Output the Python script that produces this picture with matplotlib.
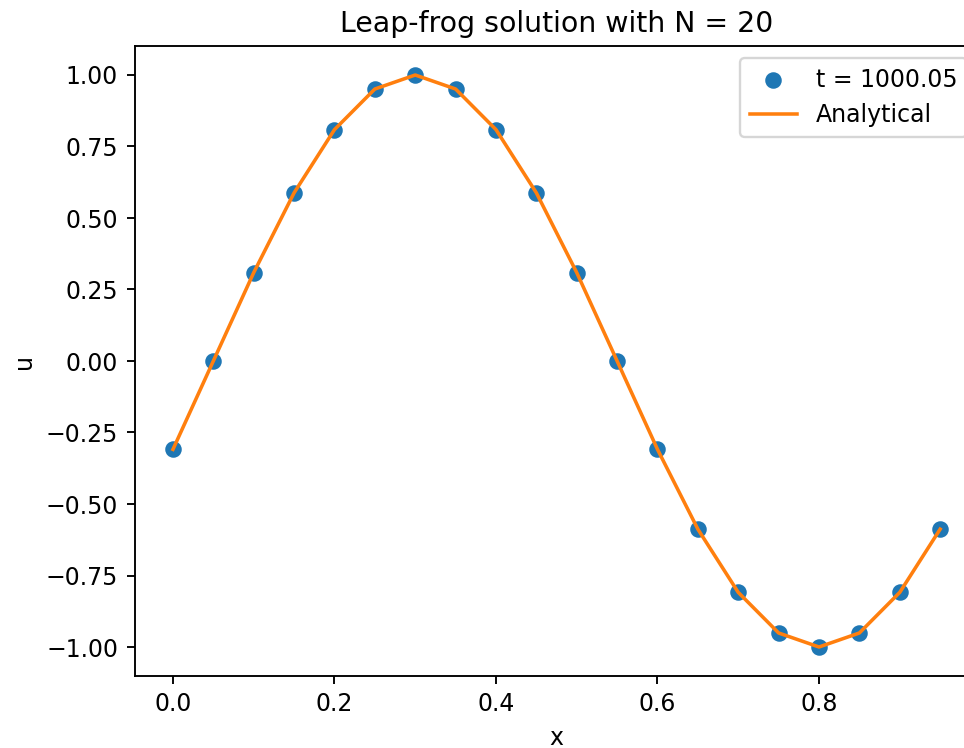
import numpy as np
import matplotlib.pyplot as plt

x = [0.0, 0.05, 0.1, 0.15, 0.2, 0.25, 0.3, 0.35, 0.4, 0.45,
     0.5, 0.55, 0.6, 0.65, 0.7, 0.75, 0.8, 0.85, 0.9, 0.95]
u_num = [-0.309, 0.0, 0.309, 0.588, 0.809, 0.951, 1.0, 0.951, 0.809, 0.588,
         0.309, 0.0, -0.309, -0.588, -0.809, -0.951, -1.0, -0.951, -0.809, -0.588]
u_exact = [-0.309, 0.0, 0.309, 0.588, 0.809, 0.951, 1.0, 0.951, 0.809, 0.588,
           0.309, 0.0, -0.309, -0.588, -0.809, -0.951, -1.0, -0.951, -0.809, -0.588]

dpi = 170
fig = plt.figure(figsize=(964 / dpi, 748 / dpi), dpi=dpi)
ax = fig.add_axes([134.6 / 964, (748 - 675.6) / 748,
                   (978.5 - 134.6) / 964, (675.6 - 46.4) / 748])

ax.scatter(x, u_num, label="t = 1000.05")
ax.plot(x, u_exact, color="C1", label="Analytical")
ax.set_title("Leap-frog solution with N = 20")
ax.set_xlabel("x")
ax.set_ylabel("u")
ax.legend(loc="upper right")

fig.savefig("out.png", dpi=dpi)
